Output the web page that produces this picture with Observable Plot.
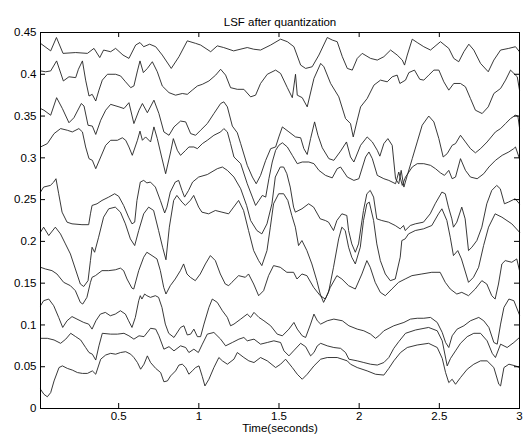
<!DOCTYPE html>
<html><head><meta charset="utf-8">
<script src="https://cdn.jsdelivr.net/npm/d3@7"></script>
<script src="https://cdn.jsdelivr.net/npm/@observablehq/plot@0.6"></script>
<style>body{margin:0;background:#fff}#chart{width:523px;height:437px}</style>
</head><body><div id="chart"></div>
<script>
// [time (s), LSF value]
const lsf10 = [[0.0125,0.437],[0.076,0.428],[0.112,0.444],[0.153,0.425],[0.232,0.426],[0.305,0.425],[0.346,0.431],[0.382,0.420],[0.406,0.429],[0.450,0.427],[0.481,0.431],[0.527,0.423],[0.564,0.419],[0.606,0.435],[0.633,0.438],[0.656,0.433],[0.693,0.436],[0.731,0.433],[0.772,0.423],[0.828,0.407],[0.876,0.421],[0.928,0.440],[0.980,0.437],[1.011,0.435],[1.074,0.427],[1.115,0.434],[1.155,0.432],[1.217,0.428],[1.302,0.432],[1.342,0.430],[1.385,0.429],[1.448,0.435],[1.510,0.442],[1.552,0.439],[1.593,0.433],[1.635,0.411],[1.666,0.407],[1.707,0.409],[1.749,0.423],[1.801,0.444],[1.832,0.441],[1.863,0.439],[1.895,0.421],[1.926,0.407],[1.957,0.405],[1.988,0.419],[2.019,0.425],[2.071,0.419],[2.113,0.417],[2.154,0.421],[2.196,0.429],[2.237,0.423],[2.269,0.417],[2.283,0.411],[2.300,0.423],[2.331,0.442],[2.362,0.438],[2.403,0.433],[2.445,0.429],[2.507,0.439],[2.559,0.431],[2.590,0.419],[2.621,0.415],[2.653,0.427],[2.684,0.436],[2.715,0.429],[2.757,0.413],[2.805,0.403],[2.840,0.417],[2.882,0.429],[2.933,0.431],[2.975,0.433],[3.0,0.427]];
const lsf9 = [[0.0125,0.404],[0.045,0.403],[0.076,0.404],[0.113,0.416],[0.155,0.392],[0.190,0.397],[0.232,0.396],[0.249,0.406],[0.274,0.416],[0.294,0.393],[0.315,0.374],[0.335,0.376],[0.357,0.368],[0.377,0.381],[0.398,0.393],[0.430,0.400],[0.481,0.400],[0.512,0.398],[0.543,0.391],[0.575,0.384],[0.595,0.386],[0.617,0.404],[0.633,0.416],[0.654,0.402],[0.679,0.407],[0.710,0.415],[0.741,0.403],[0.772,0.386],[0.814,0.378],[0.855,0.375],[0.897,0.377],[0.928,0.376],[0.959,0.381],[0.991,0.386],[1.022,0.388],[1.063,0.392],[1.105,0.399],[1.136,0.406],[1.167,0.399],[1.198,0.384],[1.240,0.382],[1.281,0.382],[1.323,0.373],[1.354,0.375],[1.385,0.389],[1.427,0.400],[1.479,0.405],[1.510,0.401],[1.552,0.384],[1.583,0.372],[1.603,0.400],[1.614,0.375],[1.645,0.372],[1.676,0.361],[1.718,0.395],[1.760,0.413],[1.780,0.409],[1.822,0.389],[1.873,0.373],[1.915,0.347],[1.946,0.341],[1.963,0.325],[1.988,0.345],[2.009,0.361],[2.050,0.371],[2.092,0.387],[2.133,0.393],[2.175,0.391],[2.206,0.397],[2.237,0.399],[2.254,0.389],[2.289,0.393],[2.310,0.402],[2.345,0.405],[2.378,0.394],[2.403,0.393],[2.434,0.399],[2.466,0.405],[2.497,0.405],[2.528,0.391],[2.559,0.381],[2.590,0.389],[2.632,0.389],[2.663,0.385],[2.694,0.371],[2.725,0.357],[2.767,0.353],[2.805,0.361],[2.840,0.377],[2.882,0.383],[2.913,0.393],[2.944,0.405],[2.986,0.397],[3.0,0.381]];
const lsf8 = [[0.0125,0.359],[0.034,0.357],[0.076,0.351],[0.113,0.372],[0.149,0.359],[0.190,0.342],[0.221,0.348],[0.267,0.365],[0.284,0.362],[0.309,0.339],[0.336,0.338],[0.357,0.328],[0.388,0.345],[0.419,0.357],[0.450,0.364],[0.502,0.361],[0.533,0.359],[0.564,0.366],[0.595,0.341],[0.627,0.357],[0.648,0.365],[0.679,0.354],[0.720,0.369],[0.751,0.353],[0.782,0.331],[0.814,0.327],[0.845,0.337],[0.886,0.344],[0.918,0.343],[0.949,0.329],[0.980,0.327],[1.011,0.333],[1.053,0.341],[1.094,0.353],[1.136,0.365],[1.156,0.367],[1.178,0.361],[1.209,0.338],[1.240,0.330],[1.261,0.317],[1.302,0.291],[1.334,0.277],[1.358,0.269],[1.385,0.279],[1.417,0.297],[1.448,0.311],[1.479,0.313],[1.499,0.325],[1.521,0.337],[1.562,0.331],[1.603,0.325],[1.635,0.324],[1.655,0.311],[1.676,0.304],[1.697,0.323],[1.722,0.343],[1.743,0.327],[1.770,0.312],[1.811,0.299],[1.842,0.297],[1.884,0.308],[1.921,0.319],[1.946,0.301],[1.967,0.295],[2.009,0.315],[2.050,0.325],[2.082,0.319],[2.113,0.309],[2.129,0.302],[2.154,0.317],[2.179,0.323],[2.206,0.315],[2.227,0.275],[2.247,0.269],[2.262,0.285],[2.279,0.265],[2.300,0.279],[2.331,0.299],[2.362,0.319],[2.393,0.339],[2.434,0.350],[2.466,0.343],[2.497,0.323],[2.524,0.301],[2.549,0.305],[2.580,0.315],[2.601,0.317],[2.632,0.327],[2.663,0.319],[2.694,0.311],[2.725,0.306],[2.757,0.311],[2.798,0.319],[2.850,0.331],[2.882,0.335],[2.913,0.341],[2.944,0.347],[2.975,0.351],[2.990,0.350],[3.0,0.336]];
const lsf7 = [[0.0125,0.313],[0.055,0.317],[0.097,0.329],[0.138,0.335],[0.180,0.333],[0.211,0.331],[0.252,0.335],[0.274,0.331],[0.294,0.313],[0.315,0.299],[0.336,0.297],[0.357,0.287],[0.388,0.301],[0.419,0.315],[0.450,0.321],[0.492,0.321],[0.523,0.324],[0.544,0.321],[0.564,0.313],[0.585,0.303],[0.617,0.321],[0.633,0.332],[0.648,0.321],[0.668,0.325],[0.699,0.319],[0.720,0.337],[0.741,0.323],[0.768,0.301],[0.793,0.281],[0.824,0.307],[0.841,0.323],[0.866,0.309],[0.886,0.303],[0.918,0.309],[0.938,0.313],[0.969,0.313],[0.991,0.311],[1.022,0.317],[1.053,0.321],[1.094,0.327],[1.136,0.331],[1.156,0.335],[1.178,0.331],[1.198,0.317],[1.219,0.301],[1.261,0.293],[1.302,0.269],[1.334,0.253],[1.354,0.243],[1.375,0.249],[1.396,0.255],[1.417,0.253],[1.437,0.275],[1.458,0.295],[1.479,0.309],[1.499,0.315],[1.521,0.318],[1.552,0.313],[1.583,0.303],[1.614,0.293],[1.645,0.295],[1.686,0.295],[1.718,0.293],[1.749,0.285],[1.790,0.279],[1.832,0.276],[1.863,0.287],[1.884,0.289],[1.926,0.277],[1.967,0.273],[1.998,0.275],[2.040,0.301],[2.061,0.307],[2.082,0.299],[2.113,0.279],[2.154,0.275],[2.185,0.273],[2.227,0.269],[2.247,0.283],[2.269,0.267],[2.289,0.277],[2.331,0.289],[2.362,0.293],[2.403,0.293],[2.445,0.291],[2.476,0.287],[2.507,0.282],[2.532,0.279],[2.559,0.285],[2.580,0.275],[2.601,0.277],[2.632,0.299],[2.663,0.285],[2.694,0.277],[2.736,0.275],[2.777,0.281],[2.809,0.289],[2.850,0.297],[2.892,0.303],[2.933,0.307],[2.964,0.311],[2.975,0.313],[3.0,0.299]];
const lsf6 = [[0.0125,0.259],[0.032,0.265],[0.074,0.267],[0.095,0.271],[0.109,0.275],[0.126,0.257],[0.147,0.235],[0.178,0.223],[0.209,0.221],[0.271,0.220],[0.313,0.220],[0.324,0.233],[0.334,0.243],[0.365,0.245],[0.396,0.249],[0.438,0.253],[0.475,0.257],[0.500,0.254],[0.531,0.243],[0.562,0.229],[0.583,0.221],[0.600,0.223],[0.614,0.249],[0.635,0.271],[0.656,0.273],[0.676,0.270],[0.698,0.271],[0.729,0.265],[0.760,0.249],[0.787,0.234],[0.801,0.241],[0.822,0.259],[0.853,0.271],[0.874,0.273],[0.895,0.261],[0.911,0.253],[0.936,0.261],[0.961,0.271],[0.999,0.277],[1.053,0.280],[1.115,0.287],[1.147,0.289],[1.178,0.285],[1.219,0.277],[1.261,0.263],[1.298,0.243],[1.323,0.225],[1.362,0.213],[1.393,0.209],[1.425,0.221],[1.456,0.245],[1.477,0.277],[1.508,0.289],[1.529,0.289],[1.549,0.281],[1.570,0.265],[1.591,0.241],[1.602,0.235],[1.643,0.239],[1.685,0.245],[1.716,0.241],[1.757,0.227],[1.789,0.225],[1.809,0.223],[1.840,0.213],[1.861,0.225],[1.892,0.233],[1.923,0.231],[1.934,0.213],[1.954,0.197],[1.976,0.187],[1.996,0.197],[2.027,0.237],[2.048,0.257],[2.069,0.261],[2.090,0.253],[2.110,0.227],[2.141,0.225],[2.183,0.223],[2.225,0.219],[2.256,0.215],[2.277,0.219],[2.287,0.213],[2.319,0.219],[2.350,0.221],[2.401,0.223],[2.443,0.233],[2.474,0.245],[2.516,0.259],[2.537,0.257],[2.557,0.241],[2.578,0.227],[2.588,0.217],[2.609,0.223],[2.640,0.241],[2.661,0.227],[2.682,0.189],[2.703,0.193],[2.734,0.201],[2.765,0.217],[2.796,0.245],[2.827,0.261],[2.858,0.267],[2.880,0.263],[2.906,0.245],[2.931,0.247],[2.973,0.251],[3.0,0.245]];
const lsf5 = [[0.0125,0.211],[0.032,0.217],[0.064,0.207],[0.105,0.217],[0.137,0.209],[0.168,0.197],[0.199,0.185],[0.230,0.167],[0.261,0.149],[0.282,0.146],[0.309,0.153],[0.324,0.177],[0.334,0.193],[0.350,0.187],[0.375,0.205],[0.406,0.229],[0.438,0.239],[0.479,0.241],[0.511,0.235],[0.542,0.221],[0.573,0.203],[0.600,0.195],[0.625,0.213],[0.656,0.233],[0.687,0.241],[0.718,0.237],[0.749,0.213],[0.774,0.193],[0.795,0.178],[0.816,0.217],[0.843,0.249],[0.863,0.255],[0.895,0.247],[0.916,0.243],[0.947,0.249],[0.968,0.255],[0.999,0.241],[1.019,0.235],[1.061,0.233],[1.103,0.237],[1.144,0.235],[1.186,0.233],[1.217,0.241],[1.248,0.249],[1.279,0.237],[1.310,0.213],[1.342,0.189],[1.373,0.177],[1.393,0.171],[1.425,0.189],[1.446,0.217],[1.466,0.245],[1.498,0.257],[1.529,0.257],[1.555,0.249],[1.580,0.231],[1.602,0.217],[1.622,0.195],[1.643,0.201],[1.674,0.189],[1.705,0.173],[1.736,0.153],[1.757,0.137],[1.778,0.127],[1.809,0.139],[1.840,0.169],[1.872,0.203],[1.892,0.217],[1.913,0.213],[1.934,0.193],[1.954,0.181],[1.976,0.173],[2.007,0.193],[2.027,0.225],[2.048,0.245],[2.063,0.247],[2.090,0.225],[2.110,0.197],[2.132,0.177],[2.163,0.161],[2.194,0.153],[2.225,0.155],[2.256,0.181],[2.266,0.201],[2.287,0.203],[2.308,0.209],[2.350,0.213],[2.401,0.215],[2.453,0.219],[2.495,0.233],[2.516,0.239],[2.547,0.225],[2.568,0.205],[2.588,0.183],[2.615,0.189],[2.638,0.179],[2.682,0.151],[2.713,0.157],[2.745,0.169],[2.776,0.195],[2.807,0.217],[2.848,0.233],[2.890,0.229],[2.952,0.221],[3.0,0.211]];
const lsf4 = [[0.0125,0.169],[0.043,0.167],[0.084,0.165],[0.115,0.161],[0.157,0.151],[0.199,0.147],[0.230,0.141],[0.261,0.127],[0.276,0.125],[0.302,0.133],[0.324,0.151],[0.334,0.157],[0.355,0.159],[0.396,0.165],[0.438,0.165],[0.479,0.166],[0.511,0.168],[0.531,0.165],[0.552,0.155],[0.583,0.144],[0.594,0.143],[0.625,0.165],[0.656,0.181],[0.676,0.187],[0.708,0.183],[0.739,0.179],[0.760,0.165],[0.781,0.145],[0.795,0.137],[0.822,0.147],[0.853,0.155],[0.885,0.165],[0.905,0.173],[0.926,0.161],[0.947,0.157],[0.978,0.153],[1.009,0.161],[1.041,0.173],[1.072,0.183],[1.103,0.177],[1.134,0.161],[1.165,0.149],[1.186,0.147],[1.206,0.151],[1.248,0.159],[1.290,0.157],[1.310,0.161],[1.342,0.149],[1.373,0.135],[1.404,0.141],[1.435,0.159],[1.466,0.171],[1.508,0.169],[1.549,0.163],[1.591,0.163],[1.612,0.155],[1.643,0.161],[1.674,0.159],[1.716,0.145],[1.757,0.135],[1.789,0.131],[1.820,0.145],[1.861,0.159],[1.892,0.155],[1.934,0.147],[1.976,0.143],[2.017,0.161],[2.048,0.177],[2.069,0.169],[2.100,0.151],[2.132,0.139],[2.163,0.135],[2.204,0.143],[2.246,0.151],[2.287,0.155],[2.329,0.159],[2.391,0.161],[2.453,0.163],[2.505,0.163],[2.537,0.151],[2.568,0.143],[2.609,0.137],[2.640,0.139],[2.682,0.135],[2.724,0.143],[2.765,0.153],[2.796,0.149],[2.827,0.135],[2.848,0.131],[2.869,0.149],[2.890,0.173],[2.911,0.177],[2.952,0.175],[2.983,0.179],[3.0,0.165]];
const lsf3 = [[0.0125,0.123],[0.032,0.129],[0.064,0.131],[0.095,0.123],[0.126,0.109],[0.151,0.097],[0.178,0.105],[0.209,0.110],[0.240,0.107],[0.282,0.103],[0.313,0.101],[0.334,0.095],[0.358,0.105],[0.386,0.113],[0.417,0.115],[0.448,0.111],[0.479,0.113],[0.511,0.117],[0.542,0.113],[0.562,0.105],[0.583,0.097],[0.604,0.109],[0.625,0.129],[0.635,0.135],[0.645,0.131],[0.662,0.137],[0.676,0.135],[0.698,0.133],[0.729,0.135],[0.749,0.133],[0.770,0.121],[0.791,0.101],[0.812,0.090],[0.845,0.085],[0.886,0.097],[0.907,0.099],[0.928,0.088],[0.949,0.089],[0.969,0.095],[0.991,0.086],[1.011,0.086],[1.032,0.101],[1.063,0.121],[1.084,0.131],[1.115,0.127],[1.147,0.117],[1.178,0.109],[1.198,0.099],[1.219,0.101],[1.261,0.107],[1.302,0.113],[1.323,0.109],[1.344,0.115],[1.375,0.109],[1.406,0.105],[1.448,0.099],[1.489,0.089],[1.521,0.087],[1.562,0.095],[1.593,0.103],[1.614,0.095],[1.645,0.087],[1.666,0.085],[1.697,0.101],[1.718,0.113],[1.739,0.105],[1.760,0.101],[1.801,0.105],[1.842,0.107],[1.895,0.105],[1.936,0.099],[1.988,0.095],[2.029,0.093],[2.071,0.089],[2.102,0.084],[2.123,0.087],[2.154,0.093],[2.216,0.099],[2.279,0.103],[2.320,0.107],[2.362,0.108],[2.403,0.108],[2.445,0.109],[2.487,0.103],[2.518,0.091],[2.539,0.079],[2.559,0.073],[2.580,0.087],[2.611,0.095],[2.653,0.099],[2.694,0.105],[2.746,0.109],[2.777,0.105],[2.809,0.097],[2.840,0.079],[2.861,0.077],[2.882,0.101],[2.903,0.121],[2.934,0.131],[2.965,0.129],[3.0,0.112]];
const lsf2 = [[0.0125,0.084],[0.055,0.084],[0.097,0.082],[0.138,0.078],[0.170,0.083],[0.201,0.090],[0.232,0.086],[0.263,0.082],[0.294,0.073],[0.315,0.067],[0.336,0.065],[0.357,0.058],[0.377,0.075],[0.398,0.090],[0.450,0.089],[0.492,0.089],[0.533,0.090],[0.564,0.087],[0.595,0.083],[0.627,0.087],[0.658,0.086],[0.699,0.096],[0.731,0.095],[0.751,0.087],[0.782,0.071],[0.814,0.074],[0.845,0.069],[0.886,0.075],[0.918,0.073],[0.938,0.067],[0.969,0.071],[0.997,0.067],[1.022,0.077],[1.053,0.089],[1.094,0.091],[1.136,0.083],[1.167,0.075],[1.209,0.079],[1.250,0.083],[1.281,0.085],[1.302,0.081],[1.344,0.083],[1.385,0.077],[1.427,0.079],[1.468,0.081],[1.510,0.079],[1.531,0.069],[1.562,0.063],[1.591,0.069],[1.635,0.078],[1.666,0.074],[1.697,0.063],[1.718,0.067],[1.739,0.075],[1.760,0.078],[1.801,0.075],[1.842,0.073],[1.884,0.072],[1.915,0.067],[1.936,0.059],[1.988,0.057],[2.029,0.055],[2.071,0.053],[2.113,0.052],[2.154,0.055],[2.185,0.061],[2.216,0.072],[2.247,0.080],[2.289,0.090],[2.352,0.094],[2.433,0.097],[2.487,0.093],[2.518,0.081],[2.549,0.051],[2.570,0.060],[2.601,0.069],[2.632,0.078],[2.674,0.086],[2.715,0.090],[2.757,0.090],[2.798,0.081],[2.830,0.066],[2.850,0.061],[2.882,0.077],[2.923,0.073],[2.965,0.079],[3.0,0.085]];
const lsf1 = [[0.0125,0.023],[0.034,0.017],[0.055,0.014],[0.076,0.019],[0.097,0.033],[0.128,0.049],[0.149,0.051],[0.180,0.048],[0.211,0.046],[0.243,0.043],[0.274,0.042],[0.305,0.042],[0.336,0.045],[0.357,0.041],[0.388,0.059],[0.419,0.064],[0.450,0.066],[0.481,0.065],[0.512,0.067],[0.544,0.068],[0.575,0.065],[0.595,0.061],[0.617,0.055],[0.637,0.047],[0.658,0.053],[0.679,0.063],[0.699,0.055],[0.731,0.048],[0.762,0.043],[0.782,0.032],[0.804,0.033],[0.824,0.039],[0.855,0.045],[0.876,0.052],[0.897,0.053],[0.918,0.049],[0.938,0.041],[0.959,0.045],[0.980,0.049],[1.001,0.051],[1.022,0.038],[1.038,0.027],[1.063,0.035],[1.094,0.049],[1.125,0.061],[1.147,0.057],[1.178,0.053],[1.219,0.059],[1.240,0.067],[1.281,0.061],[1.312,0.057],[1.344,0.055],[1.385,0.061],[1.427,0.057],[1.479,0.049],[1.510,0.053],[1.541,0.059],[1.583,0.049],[1.614,0.041],[1.645,0.035],[1.676,0.041],[1.718,0.051],[1.760,0.059],[1.801,0.061],[1.863,0.061],[1.926,0.057],[1.946,0.053],[1.988,0.049],[2.050,0.045],[2.102,0.041],[2.154,0.040],[2.185,0.048],[2.216,0.057],[2.258,0.067],[2.300,0.073],[2.362,0.076],[2.433,0.078],[2.487,0.073],[2.518,0.060],[2.539,0.043],[2.559,0.031],[2.580,0.035],[2.601,0.029],[2.632,0.037],[2.674,0.047],[2.715,0.053],[2.757,0.057],[2.798,0.057],[2.840,0.049],[2.871,0.029],[2.882,0.027],[2.903,0.049],[2.934,0.053],[2.975,0.051],[3.0,0.049]];

const seriesList = [lsf1, lsf2, lsf3, lsf4, lsf5, lsf6, lsf7, lsf8, lsf9, lsf10];
const xTicks = [0.5, 1, 1.5, 2, 2.5, 3];
const yTicks = [0, 0.05, 0.1, 0.15, 0.2, 0.25, 0.3, 0.35, 0.4, 0.45];
const xDomain = [0.0125, 3];
const yDomain = [0, 0.45];
const titleText = "LSF after quantization";
const xLabelText = "Time(seconds)";

const rows = seriesList.flatMap((s, i) => s.map(([t, v]) => ({t, v, k: i + 1})));
const tickLenX = (xDomain[1] - xDomain[0]) * 5 / 479;
const tickLenY = (yDomain[1] - yDomain[0]) * 5 / 376;

const chart = Plot.plot({
  width: 523, height: 437,
  marginLeft: 40, marginRight: 4, marginTop: 32, marginBottom: 29,
  style: {fontFamily: "'Liberation Sans', Arial, Helvetica, sans-serif", fontSize: "11.5px", background: "#fff", color: "#000", overflow: "visible"},
  x: {domain: xDomain},
  y: {domain: yDomain},
  marks: [
    Plot.line(rows, {x: "t", y: "v", z: "k", stroke: "#222", strokeWidth: 0.9}),
    Plot.frame({stroke: "#000", strokeWidth: 1}),
    Plot.ruleX(xTicks, {x: d => d, y1: yDomain[0], y2: yDomain[0] + tickLenY, stroke: "#000"}),
    Plot.ruleX(xTicks, {x: d => d, y1: yDomain[1], y2: yDomain[1] - tickLenY, stroke: "#000"}),
    Plot.ruleY(yTicks, {y: d => d, x1: xDomain[0], x2: xDomain[0] + tickLenX, stroke: "#000"}),
    Plot.ruleY(yTicks, {y: d => d, x1: xDomain[1], x2: xDomain[1] - tickLenX, stroke: "#000"}),
    Plot.axisX({ticks: xTicks, tickSize: 0, tickPadding: 3, tickFormat: d => String(d), label: null}),
    Plot.axisY({ticks: yTicks, tickSize: 0, tickPadding: 4, tickFormat: d => String(d), label: null}),
    Plot.text([titleText], {text: d => d, frameAnchor: "top", dy: -15, fill: "#000"}),
    Plot.text([xLabelText], {text: d => d, frameAnchor: "bottom", dy: 23.5, fill: "#000"})
  ]
});
document.getElementById("chart").appendChild(chart);
</script>
</body></html>
